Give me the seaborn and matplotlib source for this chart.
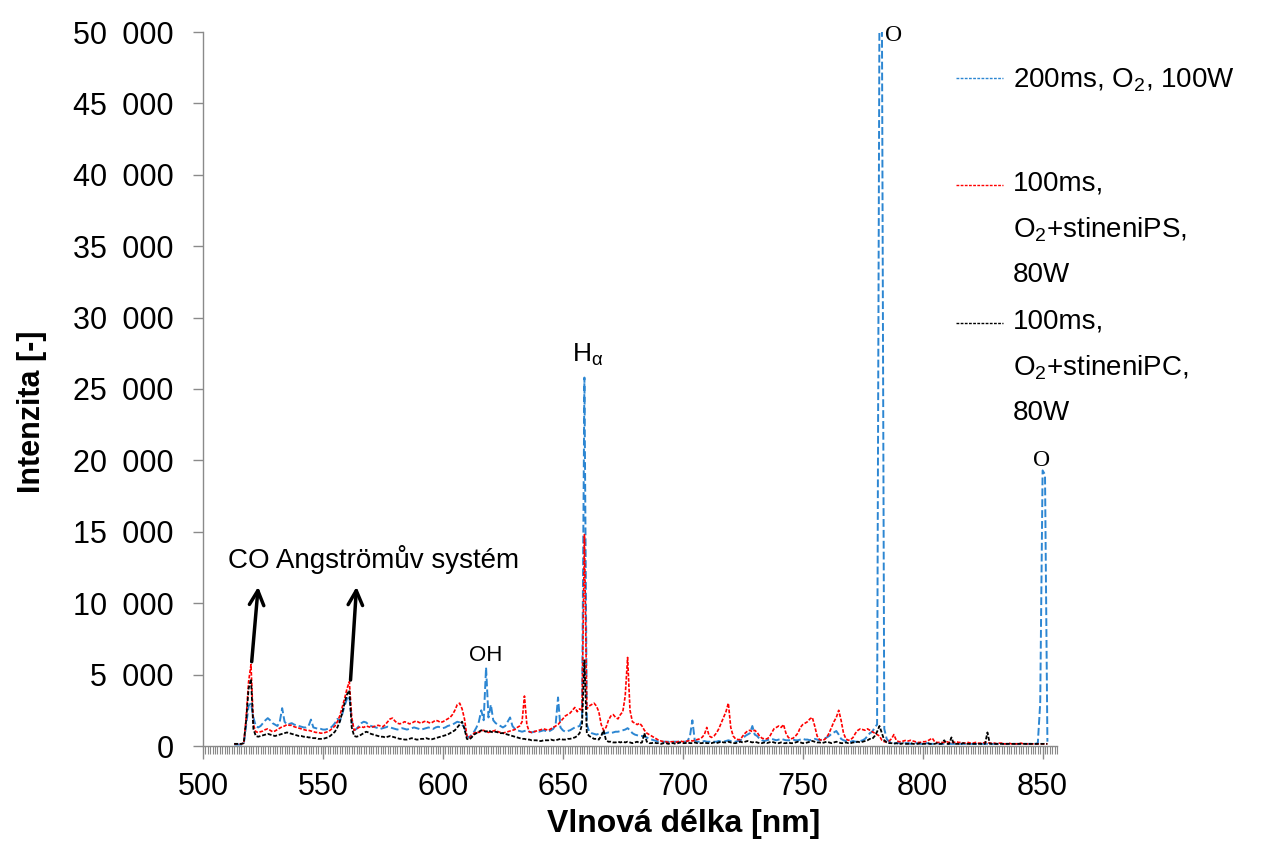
import numpy as np
import pandas as pd
import matplotlib
matplotlib.use("Agg")
import matplotlib.pyplot as plt
import seaborn as sns
from matplotlib.legend_handler import HandlerLine2D
from matplotlib.lines import Line2D
from matplotlib.ticker import MultipleLocator, FuncFormatter

sns.set_style("white")
plt.rcParams["font.family"] = ["Liberation Sans", "DejaVu Sans"]
plt.rcParams["mathtext.fontset"] = "custom"
plt.rcParams["mathtext.rm"] = "Liberation Sans"
plt.rcParams["mathtext.it"] = "Liberation Sans:italic"
plt.rcParams["mathtext.bf"] = "Liberation Sans:bold"
for k in ["text.color", "axes.labelcolor", "xtick.labelcolor", "ytick.labelcolor"]:
    plt.rcParams[k] = "black"

# ---------------- data ----------------
WL_START, WL_STOP = 513, 852          # nm, 1 nm step
wavelength = np.arange(WL_START, WL_STOP + 1)

series_labels = [
    "200ms, O$_2$, 100W",
    "100ms,\nO$_2$+stineniPS,\n80W",
    "100ms,\nO$_2$+stineniPC,\n80W",
]

blue_O2_100W = [
    100, 100, 100, 100, 150, 1500, 2800, 3000, 2000, 1400,
    1300, 1400, 1600, 1800, 1950, 1800, 1600, 1500, 1400, 1700,
    2650, 1700, 1500, 1550, 1600, 1500, 1450, 1400, 1350, 1300,
    1300, 1400, 1850, 1300, 1250, 1200, 1200, 1150, 1150, 1200,
    1250, 1400, 1600, 1900, 1700, 2200, 2800, 3300, 3500, 1800,
    1100, 1200, 1400, 1600, 1700, 1650, 1500, 1400, 1350, 1300,
    1250, 1200, 1250, 1300, 1350, 1300, 1250, 1200, 1150, 1200,
    1250, 1200, 1150, 1200, 1250, 1300, 1250, 1200, 1150, 1200,
    1250, 1300, 1250, 1200, 1300, 1350, 1300, 1250, 1300, 1400,
    1450, 1500, 1600, 1700, 1650, 1500, 1300, 700, 600, 800,
    1000, 1300, 1700, 2500, 1800, 5500, 2000, 2900, 1800, 1600,
    1500, 1400, 1300, 1400, 1700, 2000, 1400, 1200, 1100, 1050,
    1000, 1050, 1100, 1000, 950, 1000, 1050, 1000, 1050, 1100,
    1050, 1000, 1100, 1200, 1500, 3400, 1300, 1100, 1000, 1050,
    1100, 1200, 1300, 1350, 1400, 1800, 25800, 1500, 1000, 900,
    850, 800, 850, 900, 850, 900, 950, 900, 950, 1000,
    1000, 1050, 1100, 1150, 1250, 1100, 900, 800, 750, 700,
    700, 650, 600, 500, 450, 400, 350, 300, 300, 300,
    300, 300, 250, 300, 300, 300, 250, 300, 300, 350,
    700, 1800, 400, 300, 300, 300, 350, 300, 300, 300,
    300, 300, 350, 300, 300, 350, 400, 350, 300, 300,
    350, 400, 500, 700, 800, 900, 1400, 800, 700, 500,
    400, 350, 400, 450, 500, 450, 400, 450, 500, 450,
    400, 400, 400, 450, 400, 400, 450, 500, 450, 450,
    400, 450, 500, 450, 400, 450, 500, 600, 700, 850,
    950, 1050, 800, 500, 400, 350, 300, 300, 350, 300,
    300, 350, 400, 500, 700, 900, 1000, 1300, 1500, 52000,
    52000, 1200, 500, 300, 250, 200, 200, 200, 200, 200,
    200, 200, 150, 150, 200, 200, 150, 150, 200, 200,
    150, 150, 150, 200, 150, 150, 150, 150, 150, 150,
    150, 150, 150, 150, 150, 150, 150, 150, 150, 150,
    150, 150, 150, 150, 150, 150, 150, 150, 150, 150,
    150, 150, 150, 150, 150, 150, 150, 150, 150, 150,
    150, 150, 150, 150, 150, 200, 3000, 19300, 19000, 300,
]

red_PS_80W = [
    150, 150, 150, 150, 200, 2000, 4500, 5700, 1500, 1000,
    950, 1000, 1050, 1150, 1200, 1100, 1000, 1050, 1150, 1250,
    1350, 1400, 1500, 1450, 1450, 1350, 1300, 1250, 1200, 1150,
    1100, 1100, 1050, 1000, 950, 950, 900, 900, 950, 1000,
    1100, 1250, 1400, 1700, 2100, 2700, 3300, 4000, 4500, 2000,
    1100, 1200, 1300, 1350, 1300, 1400, 1350, 1300, 1350, 1400,
    1450, 1400, 1350, 1500, 1700, 1900, 1950, 1750, 1600, 1550,
    1600, 1700, 1650, 1550, 1600, 1700, 1750, 1650, 1600, 1700,
    1750, 1650, 1600, 1700, 1800, 1750, 1650, 1700, 1800, 1900,
    2000, 2200, 2500, 2900, 3000, 2600, 1900, 700, 600, 700,
    900, 1000, 950, 1050, 1100, 1000, 950, 1000, 1050, 1100,
    1000, 950, 900, 950, 1000, 1050, 1100, 1150, 1300, 1400,
    1700, 3500, 1500, 1000, 950, 1000, 1050, 1100, 1150, 1200,
    1150, 1100, 1200, 1300, 1400, 1500, 1700, 1900, 2100, 2200,
    2300, 2500, 2700, 2400, 2600, 2500, 14800, 2600, 2800, 2900,
    3000, 2800, 2400, 1500, 1100, 1300, 1800, 2100, 2200, 2000,
    1900, 2200, 2400, 3500, 6200, 2500, 1700, 1600, 1500, 1600,
    1400, 1100, 900, 800, 700, 600, 500, 400, 350, 300,
    300, 250, 300, 300, 250, 300, 350, 300, 300, 350,
    400, 350, 400, 450, 500, 600, 800, 1300, 700, 600,
    700, 900, 1200, 1600, 2000, 2400, 3000, 1300, 700, 500,
    450, 450, 700, 900, 1050, 1100, 1000, 1100, 950, 700,
    550, 500, 500, 600, 900, 1200, 1300, 1400, 1300, 1500,
    900, 600, 500, 550, 700, 900, 1300, 1500, 1600, 1700,
    1900, 2000, 1400, 700, 450, 400, 450, 600, 900, 1300,
    1700, 2000, 2500, 1800, 900, 500, 400, 450, 600, 900,
    1100, 1200, 1150, 1100, 1200, 1100, 1000, 900, 800, 700,
    400, 300, 300, 350, 500, 800, 400, 300, 300, 350,
    400, 350, 400, 350, 300, 250, 250, 300, 300, 350,
    450, 550, 300, 250, 250, 250, 250, 300, 250, 250,
    250, 300, 250, 250, 200, 200, 250, 200, 200, 250,
    200, 200, 200, 250, 250, 200, 200, 200, 150, 200,
    200, 150, 150, 200, 150, 150, 150, 150, 200, 150,
    150, 150, 150, 150, 150, 150, 150, 150, 150, 150,
]

black_PC_80W = [
    150, 150, 150, 150, 200, 1800, 4000, 4700, 1200, 700,
    650, 700, 750, 800, 850, 800, 750, 700, 750, 800,
    850, 900, 950, 900, 850, 800, 750, 700, 700, 650,
    650, 600, 600, 550, 550, 500, 500, 500, 550, 600,
    700, 850, 1000, 1300, 1700, 2300, 3000, 3600, 3900, 1300,
    700, 650, 700, 800, 900, 1000, 950, 850, 800, 750,
    700, 650, 650, 600, 650, 700, 650, 600, 550, 500,
    500, 450, 450, 500, 550, 500, 450, 450, 500, 500,
    550, 500, 450, 500, 550, 600, 650, 700, 750, 800,
    900, 1000, 1100, 1300, 1500, 1700, 1200, 500, 450, 600,
    800, 900, 1000, 1100, 1050, 1000, 1100, 1000, 950, 1000,
    950, 900, 900, 850, 800, 750, 700, 650, 600, 550,
    500, 500, 450, 450, 400, 400, 400, 350, 350, 400,
    400, 400, 450, 400, 400, 450, 500, 450, 450, 500,
    500, 550, 600, 700, 900, 1500, 6000, 900, 700, 600,
    500, 500, 450, 700, 1100, 400, 300, 300, 250, 250,
    300, 250, 300, 250, 300, 250, 200, 250, 300, 200,
    250, 900, 300, 200, 200, 250, 200, 200, 150, 200,
    200, 150, 200, 200, 150, 200, 250, 200, 200, 250,
    200, 200, 250, 200, 200, 200, 250, 200, 200, 200,
    250, 200, 250, 300, 250, 250, 300, 250, 200, 200,
    250, 300, 250, 300, 350, 300, 250, 300, 250, 200,
    200, 250, 200, 250, 300, 250, 200, 200, 250, 200,
    200, 250, 200, 200, 250, 300, 250, 200, 200, 250,
    300, 350, 300, 250, 250, 200, 250, 300, 250, 200,
    250, 300, 250, 200, 200, 250, 200, 200, 250, 250,
    300, 250, 300, 350, 400, 500, 500, 700, 1000, 1400,
    900, 400, 250, 200, 200, 150, 200, 150, 150, 200,
    150, 150, 200, 150, 150, 150, 200, 150, 150, 200,
    150, 150, 150, 200, 150, 150, 400, 150, 150, 600,
    150, 150, 150, 150, 200, 150, 150, 150, 150, 150,
    150, 150, 150, 150, 950, 150, 150, 150, 150, 150,
    150, 150, 150, 150, 150, 150, 150, 150, 150, 150,
    150, 150, 150, 150, 150, 150, 150, 150, 150, 150,
]

x_ticks = [500, 550, 600, 650, 700, 750, 800, 850]
y_ticks = [0, 5000, 10000, 15000, 20000, 25000, 30000, 35000, 40000, 45000, 50000]

colors = ["#2c86d2", "#ff0000", "#000000"]
dashes = [(0, (4, 1.6)), (0, (2.2, 1.0)), (0, (2.2, 1.0))]
widths = [1.4, 1.2, 1.3]

# ---------------- figure ----------------
W, H = 1270, 844
fig = plt.figure(figsize=(W / 100, H / 100), dpi=100)
ax = fig.add_axes([203 / W, (H - 746) / H, (1057 - 203) / W, (746 - 32) / H])

all_series = [blue_O2_100W, red_PS_80W, black_PC_80W]
for vals, lab, c, ls, lw in zip(all_series, series_labels, colors, dashes, widths):
    df = pd.DataFrame({"wl": wavelength, "I": vals})
    sns.lineplot(data=df, x="wl", y="I", ax=ax, color=c, linestyle=ls,
                 linewidth=lw, estimator=None, legend=False)

ax.set_xlim(500, 856)
ax.set_ylim(0, 50000)
ax.set_xticks(x_ticks)
ax.xaxis.set_minor_locator(MultipleLocator(1))
ax.set_yticks(y_ticks)
ax.yaxis.set_major_formatter(
    FuncFormatter(lambda v, p: f"{int(v):,}".replace(",", "\u2002")))

for s in ["top", "right"]:
    ax.spines[s].set_visible(False)
for s in ["left", "bottom"]:
    ax.spines[s].set_color("#8a8a8a")
    ax.spines[s].set_linewidth(1.0)

ax.tick_params(axis="y", which="major", direction="out", length=7, width=1,
               color="#8a8a8a", labelsize=22, pad=14, left=True, labelcolor="black")
ax.tick_params(axis="x", which="major", direction="out", length=9, width=1,
               color="#8a8a8a", labelsize=22, pad=10, bottom=True, labelcolor="black")
ax.tick_params(axis="x", which="minor", direction="out", length=6, width=0.8,
               color="#8a8a8a", bottom=True)

ax.set_xlabel("Vlnová délka [nm]", fontsize=23, fontweight="bold", color="black")
ax.set_ylabel("Intenzita [-]", fontsize=22, fontweight="bold", color="black")
ax.xaxis.set_label_coords(0.5632, -0.088)
ax.yaxis.set_label_coords(-0.1827, 0.4678)

# ---------------- annotations ----------------
ax.text(510.4, 12460, "CO Angströmův systém", fontsize=20, ha="left", va="baseline")
arrow_kw = dict(arrowstyle="->", lw=2.5, color="black", mutation_scale=26, shrinkA=0, shrinkB=0)
ax.annotate("", xy=(523.0, 11150), xytext=(520.3, 5900), arrowprops=arrow_kw)
ax.annotate("", xy=(564.0, 11150), xytext=(561.5, 4620), arrowprops=arrow_kw)
ax.text(617.7, 6350, "OH", fontsize=16, ha="center", va="center")
ax.text(653.9, 27400, "H$_{\\mathrm{α}}$", fontsize=19, ha="left", va="center")
ax.text(788.0, 49750, "O", fontsize=17, family="Liberation Serif", ha="center", va="center")
ax.text(849.6, 20000, "O", fontsize=17, family="Liberation Serif", ha="center", va="center")


# ---------------- legend ----------------
class HandlerTop(HandlerLine2D):
    def __init__(self, shift, **kw):
        super().__init__(**kw)
        self.shift = shift

    def create_artists(self, legend, orig_handle, xdescent, ydescent, width,
                       height, fontsize, trans):
        arts = super().create_artists(legend, orig_handle, xdescent, ydescent,
                                      width, height, fontsize, trans)
        for a in arts:
            if isinstance(a, Line2D):
                a.set_ydata(np.asarray(a.get_ydata(), dtype=float) + self.shift)
        return arts


lines = ax.get_lines()[:3]
leg_tops = [67, 171, 309]     # px from top
leg_shift = [0, 32, 32]       # pt
for ln, lab, top, sh in zip(lines, series_labels, leg_tops, leg_shift):
    h = Line2D([], [], color=ln.get_color(), linestyle=(0, (2, 1)), linewidth=1.0)
    leg = fig.legend([h], [lab], loc="upper left",
                     bbox_to_anchor=(956 / W, 1 - top / H),
                     frameon=False, fontsize=20, handlelength=1.7,
                     handletextpad=0.35, borderpad=0, borderaxespad=0,
                     handler_map={h: HandlerTop(sh)})
    for t in leg.get_texts():
        t.set_linespacing(1.86)
        t.set_color("black")

fig.savefig("out.png", dpi=100)
